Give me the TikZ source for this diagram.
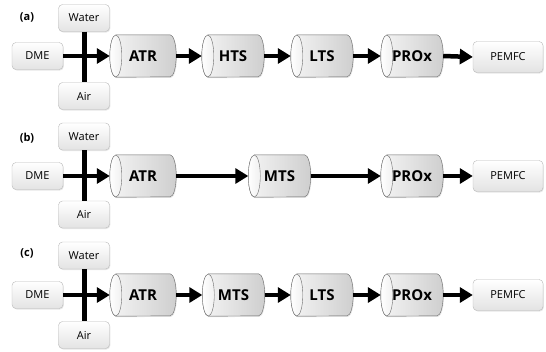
\documentclass[tikz,border=0pt]{standalone}
\usepackage{fontspec}
\setmainfont{Open Sans}
\usetikzlibrary{arrows.meta,backgrounds,shadows}
\definecolor{rim}{RGB}{105,105,105}

\tikzset{
  unit/.style={rectangle, rounded corners=4pt, draw=gray!55, top color=white, bottom color=gray!22,
    minimum width=51pt, minimum height=27pt, inner sep=0pt, font=\fontsize{11}{13}\selectfont,
    drop shadow={opacity=0.2,shadow xshift=0.8pt,shadow yshift=-1pt}},
  reactor/.style={rectangle, minimum width=62pt, minimum height=42pt, inner sep=0pt,
    text depth=0pt, font=\bfseries\fontsize{15}{18}\selectfont},
  drum/.style={draw=rim, left color=gray!8, right color=gray!38,
    drop shadow={opacity=0.2,shadow xshift=0.8pt,shadow yshift=-1pt}},
  drumend/.style={draw=rim, left color=white, right color=gray!12},
  flow/.style={line width=4.5pt, -{Triangle[length=13pt,width=15pt]}},
  feed/.style={line width=5pt},
  tag/.style={font=\bfseries\fontsize{11}{13}\selectfont}
}

\begin{document}
\begin{tikzpicture}[x=1pt,y=1pt]
  \useasboundingbox (0,0) rectangle (546,-351);
  % (a) ATR - HTS - LTS - PROx
  \node[tag] (tagA) at (27,-17) {(a)};
  \node[unit] (waterA) at (84,-18) {Water};
  \node[unit] (dmeA) at (37.5,-56) {DME};
  \node[unit] (airA) at (84,-96) {Air};
  \node[reactor, minimum width=66pt] (atrA) at (143,-56) {ATR};
  \node[reactor] (htsA) at (233,-56) {HTS};
  \node[reactor] (ltsA) at (322,-56) {LTS};
  \node[reactor] (proxA) at (412,-56) {PROx};
  \node[unit, minimum width=70pt, minimum height=31pt] (pemfcA) at (508,-57) {PEMFC};
  \draw[feed] (waterA.south) -- (airA.north);
  \draw[flow] (dmeA.east) -- (atrA.west);
  \draw[flow] (atrA.east) -- (htsA.west);
  \draw[flow] (htsA.east) -- (ltsA.west);
  \draw[flow] (ltsA.east) -- (proxA.west);
  \draw[flow] (proxA.east) -- (pemfcA.west);
  % (b) ATR - MTS - PROx
  \node[tag] (tagB) at (27,-138) {(b)};
  \node[unit] (waterB) at (84,-136.5) {Water};
  \node[unit] (dmeB) at (37.5,-176) {DME};
  \node[unit] (airB) at (84,-214.5) {Air};
  \node[reactor, minimum width=66pt] (atrB) at (143,-176) {ATR};
  \node[reactor] (mtsB) at (279.5,-176) {MTS};
  \node[reactor] (proxB) at (412,-176) {PROx};
  \node[unit, minimum width=70pt, minimum height=31pt] (pemfcB) at (508,-176) {PEMFC};
  \draw[feed] (waterB.south) -- (airB.north);
  \draw[flow] (dmeB.east) -- (atrB.west);
  \draw[flow] (atrB.east) -- (mtsB.west);
  \draw[flow] (mtsB.east) -- (proxB.west);
  \draw[flow] (proxB.east) -- (pemfcB.west);
  % (c) ATR - MTS - LTS - PROx
  \node[tag] (tagC) at (27,-253) {(c)};
  \node[unit] (waterC) at (84,-255.5) {Water};
  \node[unit] (dmeC) at (37.5,-295) {DME};
  \node[unit] (airC) at (84,-335) {Air};
  \node[reactor, minimum width=66pt] (atrC) at (143,-295) {ATR};
  \node[reactor] (mtsC) at (233.5,-295) {MTS};
  \node[reactor] (ltsC) at (322,-295) {LTS};
  \node[reactor] (proxC) at (412,-295) {PROx};
  \node[unit, minimum width=70pt, minimum height=31pt] (pemfcC) at (508,-295) {PEMFC};
  \draw[feed] (waterC.south) -- (airC.north);
  \draw[flow] (dmeC.east) -- (atrC.west);
  \draw[flow] (atrC.east) -- (mtsC.west);
  \draw[flow] (mtsC.east) -- (ltsC.west);
  \draw[flow] (ltsC.east) -- (proxC.west);
  \draw[flow] (proxC.east) -- (pemfcC.west);
  % cylinder bodies behind the reactor labels
  \begin{scope}[on background layer]
    \foreach \r in {atrA,htsA,ltsA,proxA,atrB,mtsB,proxB,atrC,mtsC,ltsC,proxC}{
      \draw[drum] ([xshift=6pt]\r.north west) -- ([xshift=-6pt]\r.north east)
        arc[start angle=90, end angle=-90, x radius=6pt, y radius=21pt]
        -- ([xshift=6pt]\r.south west)
        arc[start angle=270, end angle=90, x radius=6pt, y radius=21pt] -- cycle;
      \draw[drumend] ([xshift=6pt]\r.west) ellipse [x radius=6pt, y radius=21pt];
    }
  \end{scope}
\end{tikzpicture}
\end{document}
